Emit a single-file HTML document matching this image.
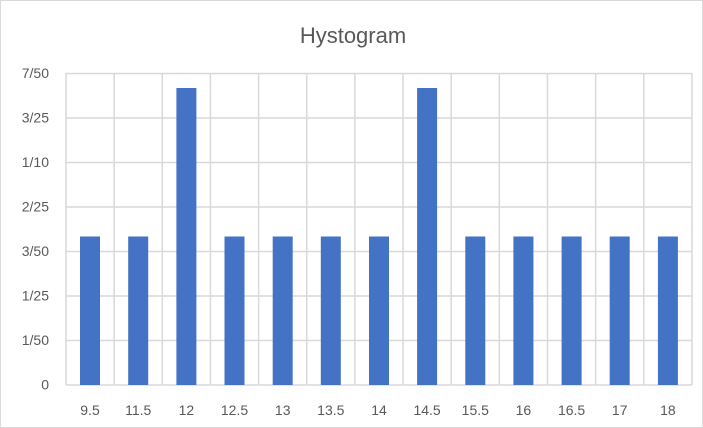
<!DOCTYPE html>
<html><head><meta charset="utf-8"><style>
html,body{margin:0;padding:0;background:#fff;}
svg{display:block;font-family:"Liberation Sans",sans-serif;}
</style></head><body>
<svg width="703" height="428" viewBox="0 0 703 428" xmlns="http://www.w3.org/2000/svg">
<rect x="0.5" y="0.5" width="702" height="427" fill="#fff" stroke="#d9d9d9"/>
<text x="353" y="43" text-anchor="middle" font-size="22" fill="#595959">Hystogram</text>
<g stroke="#d9d9d9" stroke-width="1.5">
<line x1="66" y1="73.5" x2="692" y2="73.5"/>
<line x1="66" y1="118" x2="692" y2="118"/>
<line x1="66" y1="162.5" x2="692" y2="162.5"/>
<line x1="66" y1="207" x2="692" y2="207"/>
<line x1="66" y1="251.5" x2="692" y2="251.5"/>
<line x1="66" y1="296" x2="692" y2="296"/>
<line x1="66" y1="340.5" x2="692" y2="340.5"/>
<line x1="66" y1="385" x2="692" y2="385"/>
<line x1="66" y1="73" x2="66" y2="385"/>
<line x1="114.15" y1="73" x2="114.15" y2="385"/>
<line x1="162.3" y1="73" x2="162.3" y2="385"/>
<line x1="210.45" y1="73" x2="210.45" y2="385"/>
<line x1="258.6" y1="73" x2="258.6" y2="385"/>
<line x1="306.75" y1="73" x2="306.75" y2="385"/>
<line x1="354.9" y1="73" x2="354.9" y2="385"/>
<line x1="403.05" y1="73" x2="403.05" y2="385"/>
<line x1="451.2" y1="73" x2="451.2" y2="385"/>
<line x1="499.35" y1="73" x2="499.35" y2="385"/>
<line x1="547.5" y1="73" x2="547.5" y2="385"/>
<line x1="595.65" y1="73" x2="595.65" y2="385"/>
<line x1="643.8" y1="73" x2="643.8" y2="385"/>
<line x1="692" y1="73" x2="692" y2="385"/>
</g>
<g fill="#4472c4">
<rect x="80" y="236.5" width="20" height="148.5"/>
<rect x="128.2" y="236.5" width="20" height="148.5"/>
<rect x="176.4" y="88" width="20" height="297"/>
<rect x="224.5" y="236.5" width="20" height="148.5"/>
<rect x="272.7" y="236.5" width="20" height="148.5"/>
<rect x="320.8" y="236.5" width="20" height="148.5"/>
<rect x="369" y="236.5" width="20" height="148.5"/>
<rect x="417.1" y="88" width="20" height="297"/>
<rect x="465.3" y="236.5" width="20" height="148.5"/>
<rect x="513.4" y="236.5" width="20" height="148.5"/>
<rect x="561.6" y="236.5" width="20" height="148.5"/>
<rect x="609.7" y="236.5" width="20" height="148.5"/>
<rect x="657.9" y="236.5" width="20" height="148.5"/>
</g>
<g font-size="14" fill="#595959" text-anchor="end">
<text x="49" y="78">7/50</text>
<text x="49" y="122.5">3/25</text>
<text x="49" y="167">1/10</text>
<text x="49" y="211.5">2/25</text>
<text x="49" y="256">3/50</text>
<text x="49" y="300.5">1/25</text>
<text x="49" y="345">1/50</text>
<text x="49" y="389.5">0</text>
</g>
<g font-size="14" fill="#595959" text-anchor="middle">
<text x="90" y="415">9.5</text>
<text x="138.2" y="415">11.5</text>
<text x="186.4" y="415">12</text>
<text x="234.5" y="415">12.5</text>
<text x="282.7" y="415">13</text>
<text x="330.8" y="415">13.5</text>
<text x="379" y="415">14</text>
<text x="427.1" y="415">14.5</text>
<text x="475.3" y="415">15.5</text>
<text x="523.4" y="415">16</text>
<text x="571.6" y="415">16.5</text>
<text x="619.7" y="415">17</text>
<text x="667.9" y="415">18</text>
</g>
</svg>
</body></html>
